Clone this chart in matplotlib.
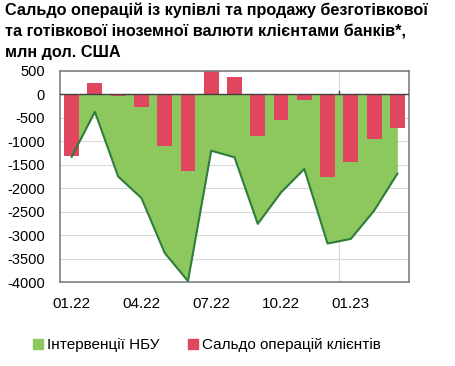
import matplotlib
matplotlib.use("Agg")
import matplotlib.pyplot as plt
from matplotlib.patches import Patch
import numpy as np

plt.rcParams['font.family'] = ['Liberation Sans', 'DejaVu Sans']

months = ["01.22", "02.22", "03.22", "04.22", "05.22", "06.22", "07.22", "08.22",
          "09.22", "10.22", "11.22", "12.22", "01.23", "02.23", "03.23"]
interventions = [-1330, -370, -1750, -2210, -3380, -3980, -1200, -1340,
                 -2760, -2090, -1590, -3180, -3080, -2480, -1690]
clients = [-1310, 240, -40, -270, -1100, -1630, 510, 370,
           -890, -540, -110, -1760, -1440, -960, -720]
yticks = [500, 0, -500, -1000, -1500, -2000, -2500, -3000, -3500, -4000]
xtick_labels = ["01.22", "04.22", "07.22", "10.22", "01.23"]

green = "#8DC85F"
green_line = "#2E7D3A"
red = "#E0475F"

fig = plt.figure(figsize=(4.56, 3.66), dpi=100)
ax = fig.add_axes([60/456, 1-282/366, 349/456, 211/366])

x = np.arange(len(months))
ax.fill_between(x, 0, interventions, color=green, zorder=1, linewidth=0)
ax.bar(x, clients, width=0.64, color=red, zorder=2)
ax.plot(x, interventions, color=green_line, lw=1.5, zorder=3)

ax.set_ylim(min(yticks), max(yticks))
ax.set_xlim(-0.5, len(months) - 0.5)
ax.set_yticks(yticks)
ax.set_yticklabels([str(v) for v in yticks], fontsize=10.5)
tick_pos = [months.index(m) for m in xtick_labels]
ax.set_xticks(tick_pos)
ax.set_xticklabels(xtick_labels, fontsize=11)
ax.tick_params(axis='both', length=0, colors="#000000")
ax.tick_params(axis='y', pad=11)
ax.tick_params(axis='x', pad=11)

ax.grid(axis='y', color="#D9D9D9", lw=0.8, zorder=0)
ax.set_axisbelow(True)
# year boundary separator
yb = months.index("01.23") - 0.5
ax.axvline(yb, color="#D9D9D9", lw=0.8, zorder=0)
ax.plot([yb, yb], [0, 80], color="#404040", lw=1, zorder=4)
ax.axhline(0, color="#404040", lw=1, zorder=4)

for s in ax.spines.values():
    s.set_color("#7F7F7F")
    s.set_linewidth(1.2)

fig.text(5/456, 1-2/366,
         "Сальдо операцій із купівлі та продажу безготівкової\n"
         "та готівкової іноземної валюти клієнтами банків*,\n"
         "млн дол. США",
         fontsize=11.7, fontweight='bold', va='top', ha='left', linespacing=1.5)

handles = [Patch(color=green, label="Інтервенції НБУ"),
           Patch(color=red, label="Сальдо операцій клієнтів")]
fig.legend(handles=handles, loc='center left', bbox_to_anchor=(33/456, 1-345/366),
           ncol=2, frameon=False, fontsize=11, handlelength=0.65, handleheight=0.65,
           handletextpad=0.25, columnspacing=1.9, borderaxespad=0, borderpad=0)

fig.savefig("out.png", dpi=100)
